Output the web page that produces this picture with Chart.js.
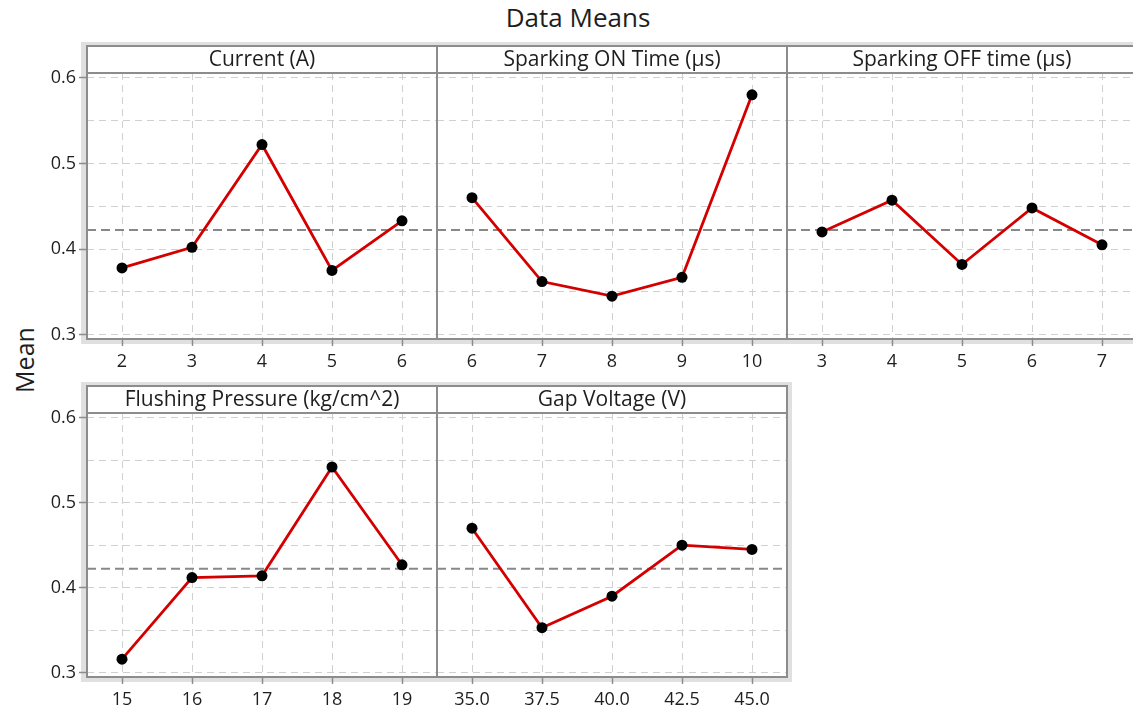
<!DOCTYPE html>
<html>
<head>
<meta charset="utf-8">
<title>Main Effects Plot for Means</title>
<script src="https://cdn.jsdelivr.net/npm/chart.js@4/dist/chart.umd.min.js"></script>
<style>
  html, body { margin: 0; padding: 0; background: #fff; }
  body { position: relative; width: 1133px; height: 713px; overflow: hidden;
         font-family: "Open Sans", "Noto Sans", sans-serif; color: #1e1e1e; }
  .band { position: absolute; box-sizing: content-box; background: #fff;
          border-style: solid; border-color: #e0e0e0; }
  canvas { position: absolute; }
  #title { position: absolute; left: 0; top: 2px; width: 1156px; text-align: center;
           font-size: 26px; line-height: 30px; }
  #ylabel { position: absolute; left: -26px; top: 344px; width: 100px; height: 32px;
            line-height: 32px; text-align: center; font-size: 25px; transform: rotate(-90deg); }
</style>
</head>
<body>
<div id="title">Data Means</div>
<div id="ylabel">Mean</div>
<div class="band" style="left:81px; top:42px; width:1051px; height:295px; border-width:3px 4px 4px 6px;"></div>
<div class="band" style="left:81px; top:382px; width:701px; height:292px; border-width:3px 4px 5px 6px;"></div>
<canvas id="pCurrent"></canvas>
<canvas id="pOnTime"></canvas>
<canvas id="pOffTime"></canvas>
<canvas id="pPressure"></canvas>
<canvas id="pVoltage"></canvas>
<script>
// Factor levels and the mean response at each level
const currentLevels = ['2', '3', '4', '5', '6'];
const currentMeans = [0.378, 0.402, 0.522, 0.375, 0.433];

const onTimeLevels = ['6', '7', '8', '9', '10'];
const onTimeMeans = [0.460, 0.362, 0.345, 0.367, 0.580];

const offTimeLevels = ['3', '4', '5', '6', '7'];
const offTimeMeans = [0.420, 0.457, 0.382, 0.448, 0.405];

const pressureLevels = ['15', '16', '17', '18', '19'];
const pressureMeans = [0.316, 0.412, 0.414, 0.542, 0.427];

const voltageLevels = ['35.0', '37.5', '40.0', '42.5', '45.0'];
const voltageMeans = [0.470, 0.353, 0.390, 0.450, 0.445];

const panelTitles = ['Current (A)', 'Sparking ON Time (µs)', 'Sparking OFF time (µs)',
                     'Flushing Pressure (kg/cm^2)', 'Gap Voltage (V)'];

// Overall mean (reference line) and the shared y-axis ticks
const grandMean = 0.4222;
const meanTicks = [0.3, 0.35, 0.4, 0.45, 0.5, 0.55, 0.6];
const yMin = 0.295;
const yMax = 0.6055;

// ---- layout ----
const FONT = '"Open Sans", "Noto Sans", sans-serif';
const TEXT = '#1e1e1e';
const FRAME = '#8c8c8c';
const GRID = '#d0d0d0';
const colLeft = [87, 437, 787];
const rows = [{ areaTop: 73, areaBottom: 339 }, { areaTop: 413, areaBottom: 677 }];
const PANEL_W = 350, AX_W = 60, PAD_R = 8, STRIP = 30, X_H = 42;

const panels = [
  { id: 'pCurrent',  title: panelTitles[0], levels: currentLevels,  means: currentMeans,  col: 0, row: 0 },
  { id: 'pOnTime',   title: panelTitles[1], levels: onTimeLevels,   means: onTimeMeans,   col: 1, row: 0 },
  { id: 'pOffTime',  title: panelTitles[2], levels: offTimeLevels,  means: offTimeMeans,  col: 2, row: 0 },
  { id: 'pPressure', title: panelTitles[3], levels: pressureLevels, means: pressureMeans, col: 0, row: 1 },
  { id: 'pVoltage',  title: panelTitles[4], levels: voltageLevels,  means: voltageMeans,  col: 1, row: 1 }
];

const isLabelled = v => Math.abs(v * 10 - Math.round(v * 10)) < 1e-6;

panels.forEach(p => {
  const r = rows[p.row];
  const el = document.getElementById(p.id);
  el.width = AX_W + PANEL_W + PAD_R;
  el.height = STRIP + (r.areaBottom - r.areaTop) + X_H;
  el.style.left = (colLeft[p.col] - AX_W) + 'px';
  el.style.top = (r.areaTop - STRIP) + 'px';
  const first = p.col === 0;

  // grand-mean reference line, strip header and panel frame
  const panelDecor = {
    id: 'panelDecor',
    beforeDatasetsDraw(chart) {
      const { ctx, chartArea: a, scales: { y } } = chart;
      const yy = y.getPixelForValue(grandMean);
      ctx.save();
      ctx.strokeStyle = '#888888';
      ctx.lineWidth = 2;
      ctx.setLineDash([9, 5]);
      ctx.beginPath();
      ctx.moveTo(a.left, yy);
      ctx.lineTo(a.right, yy);
      ctx.stroke();
      ctx.restore();
    },
    afterDraw(chart) {
      const { ctx, chartArea: a } = chart;
      const top = a.top - STRIP + 3;
      ctx.save();
      ctx.strokeStyle = FRAME;
      ctx.lineWidth = 2;
      ctx.strokeRect(a.left, top, a.right - a.left, a.bottom - top);
      ctx.beginPath();
      ctx.moveTo(a.left, a.top);
      ctx.lineTo(a.right, a.top);
      ctx.stroke();
      ctx.fillStyle = TEXT;
      ctx.font = '21px ' + FONT;
      ctx.textAlign = 'center';
      ctx.textBaseline = 'middle';
      ctx.fillText(p.title, (a.left + a.right) / 2, (top + a.top) / 2 + 1);
      ctx.restore();
    }
  };

  new Chart(el, {
    type: 'line',
    data: {
      labels: p.levels,
      datasets: [{
        data: p.means,
        borderColor: '#d40000',
        borderWidth: 2.8,
        pointRadius: 5.5,
        pointHoverRadius: 5.5,
        pointBackgroundColor: '#000',
        pointBorderColor: '#000',
        pointBorderWidth: 0,
        tension: 0,
        fill: false
      }]
    },
    options: {
      responsive: false,
      animation: false,
      devicePixelRatio: 1,
      events: [],
      layout: { padding: { top: STRIP, right: PAD_R, left: 0, bottom: 0 } },
      plugins: { legend: { display: false }, tooltip: { enabled: false }, title: { display: false } },
      scales: {
        x: {
          type: 'category',
          offset: true,
          afterFit: s => { s.height = X_H; },
          grid: { offset: false, color: GRID, lineWidth: 1, drawTicks: true,
                  tickLength: 7, tickWidth: 1.5, tickColor: FRAME },
          border: { display: false, dash: [7, 5] },
          ticks: { padding: 5, color: TEXT, font: { family: FONT, size: 18 },
                   maxRotation: 0, autoSkip: false }
        },
        y: {
          min: yMin,
          max: yMax,
          bounds: 'data',
          afterBuildTicks: s => { s.ticks = meanTicks.map(v => ({ value: v })); },
          afterFit: s => { s.width = AX_W; },
          grid: { color: GRID, lineWidth: 1, drawTicks: first, tickLength: 8, tickWidth: 1.5,
                  tickColor: c => (c.tick && isLabelled(c.tick.value)) ? FRAME : 'rgba(0,0,0,0)' },
          border: { display: false, dash: [7, 5] },
          ticks: { display: first, padding: 3, color: TEXT, font: { family: FONT, size: 18 },
                   callback: v => isLabelled(v) ? v.toFixed(1) : '' }
        }
      }
    },
    plugins: [panelDecor]
  });
});
</script>
</body>
</html>
